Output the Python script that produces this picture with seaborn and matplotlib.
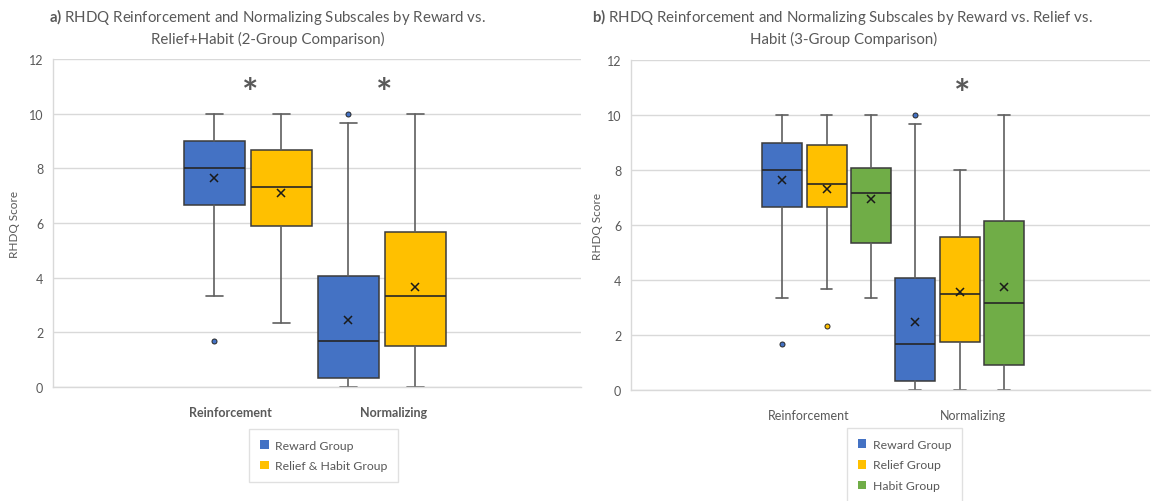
import numpy as np
import matplotlib
matplotlib.use("Agg")
import matplotlib.pyplot as plt
import seaborn as sns
from matplotlib.patches import Patch

# ---------------- data ----------------
subscales = ["Reinforcement", "Normalizing"]

# panel a: 2 groups  (indexed [subscale][group])
a_groups = ["Reward Group", "Relief & Habit Group"]
a_q1 = [[6.67, 5.90], [0.33, 1.50]]
a_med = [[8.00, 7.33], [1.67, 3.33]]
a_q3 = [[9.00, 8.67], [4.07, 5.67]]
a_lo = [[3.33, 2.33], [0.00, 0.00]]
a_hi = [[10.0, 10.0], [9.67, 10.0]]
a_mean = [[7.65, 7.09], [2.46, 3.67]]
a_fliers = [[[1.67], []], [[10.0], []]]

# panel b: 3 groups
b_groups = ["Reward Group", "Relief Group", "Habit Group"]
b_q1 = [[6.67, 6.67, 5.33], [0.33, 1.75, 0.92]]
b_med = [[8.00, 7.50, 7.17], [1.67, 3.50, 3.17]]
b_q3 = [[9.00, 8.90, 8.07], [4.07, 5.58, 6.15]]
b_lo = [[3.33, 3.67, 3.33], [0.00, 0.00, 0.00]]
b_hi = [[10.0, 10.0, 10.0], [9.67, 8.00, 10.0]]
b_mean = [[7.65, 7.30, 6.93], [2.46, 3.58, 3.74]]
b_fliers = [[[1.67], [2.33], []], [[10.0], [], []]]

# significance marks: subscale index per panel
a_sig = [0, 1]
b_sig = [1]

yticks = [0, 2, 4, 6, 8, 10, 12]

# ---------------- style ----------------
sns.set_theme(style="white")
plt.rcParams["font.family"] = ["Lato", "DejaVu Sans"]
plt.rcParams["mathtext.fontset"] = "custom"
plt.rcParams["mathtext.rm"] = "Lato"
plt.rcParams["mathtext.bf"] = "Lato:bold"

palette = ["#4472C4", "#FFC000", "#70AD47"]
TXT = "#595959"
GRID = "#d9d9d9"

W, H = 1158, 502
fig = plt.figure(figsize=(W / 100, H / 100), dpi=100)
fig.patch.set_facecolor("white")

axa = fig.add_axes([53 / W, 1 - 388 / H, 528 / W, 328 / H])
axb = fig.add_axes([631 / W, 1 - 391 / H, 519 / W, 330 / H])


def draw(ax, q1, med, q3, lo, hi, mean, fliers, ngroups, offsets, width, capw):
    stats, positions, cols = [], [], []
    for i in range(len(subscales)):
        for j in range(ngroups):
            stats.append(dict(q1=q1[i][j], med=med[i][j], q3=q3[i][j],
                              whislo=lo[i][j], whishi=hi[i][j],
                              mean=mean[i][j], fliers=fliers[i][j], label=""))
            positions.append(i + offsets[j])
            cols.append(palette[j])
    bp = ax.bxp(stats, positions=positions, widths=width, capwidths=capw,
                patch_artist=True, showmeans=True, showfliers=True,
                boxprops=dict(edgecolor="#3a3a3a", linewidth=1.1),
                medianprops=dict(color="#262626", linewidth=1.2),
                whiskerprops=dict(color="#5f5f5f", linewidth=1.2),
                capprops=dict(color="#5f5f5f", linewidth=1.2),
                meanprops=dict(marker="x", markeredgecolor="#1a1a1a",
                               markersize=6, markeredgewidth=1.1),
                flierprops=dict(marker="o", markersize=3.6,
                                markeredgecolor="#262626", markeredgewidth=0.7))
    for p, c in zip(bp["boxes"], cols):
        p.set_facecolor(c)
    for f, c in zip(bp["fliers"], cols):
        f.set_markerfacecolor(c)


draw(axa, a_q1, a_med, a_q3, a_lo, a_hi, a_mean, a_fliers, 2,
     [-0.25, 0.25], 0.448, 0.134)
draw(axb, b_q1, b_med, b_q3, b_lo, b_hi, b_mean, b_fliers, 3,
     [-0.334, 0.0, 0.334], 0.30, 0.088)

axa.set_xlim(-1.455, 2.485)
axb.set_xlim(-1.47, 2.43)

for ax, tickpos, bold, ylx in [(axa, [-0.134, 1.09], True, -0.0625),
                               (axb, [-0.137, 1.096], False, -0.054)]:
    ax.set_ylim(0, 12)
    ax.set_yticks(yticks)
    ax.set_yticklabels([str(t) for t in yticks])
    ax.yaxis.grid(True, color=GRID, linewidth=1)
    ax.xaxis.grid(False)
    ax.set_axisbelow(True)
    for s in ["top", "right"]:
        ax.spines[s].set_visible(False)
    for s in ["left", "bottom"]:
        ax.spines[s].set_color(GRID)
        ax.spines[s].set_linewidth(1)
    ax.set_xticks(tickpos)
    ax.set_xticklabels(subscales, fontweight="bold" if bold else "normal")
    ax.tick_params(axis="y", length=0, pad=7, labelsize=9, labelcolor=TXT)
    ax.tick_params(axis="x", length=0, pad=14, labelsize=9, labelcolor=TXT)
    ax.set_ylabel("RHDQ Score", fontsize=8.5, color=TXT)
    ax.yaxis.set_label_coords(ylx, 0.5)
    ax.set_xlabel("")

for i in a_sig:
    axa.text(i + 0.02, 10.75, "*", fontsize=28, fontweight="bold",
             color=TXT, ha="center", va="center")
for i in b_sig:
    axb.text(i + 0.02, 10.75, "*", fontsize=28, fontweight="bold",
             color=TXT, ha="center", va="center")

# titles
fig.text(267 / W, 1 - 17 / H,
         r"$\mathbf{a)}$ RHDQ Reinforcement and Normalizing Subscales by Reward vs.",
         ha="center", va="center", fontsize=10.8, color=TXT)
fig.text(268 / W, 1 - 39 / H, "Relief+Habit (2-Group Comparison)",
         ha="center", va="center", fontsize=10.8, color=TXT)
fig.text(842 / W, 1 - 17 / H,
         r"$\mathbf{b)}$ RHDQ Reinforcement and Normalizing Subscales by Reward vs. Relief vs.",
         ha="center", va="center", fontsize=10.8, color=TXT)
fig.text(844 / W, 1 - 39 / H, "Habit (3-Group Comparison)",
         ha="center", va="center", fontsize=10.8, color=TXT)

# legends
def make_legend(groups, center):
    handles = [Patch(facecolor=palette[j], edgecolor="none", label=g)
               for j, g in enumerate(groups)]
    leg = fig.legend(handles=handles, loc="center", bbox_to_anchor=center,
                     frameon=True, fancybox=False, fontsize=8.8,
                     handlelength=0.7, handleheight=0.7, handletextpad=0.5,
                     labelspacing=0.8, borderpad=0.9, borderaxespad=0)
    leg.get_frame().set_edgecolor(GRID)
    leg.get_frame().set_linewidth(1)
    for t in leg.get_texts():
        t.set_color(TXT)
    return leg


make_legend(a_groups, (323.5 / W, 1 - 456.5 / H))
make_legend(b_groups, (904.5 / W, 1 - 466 / H))

fig.savefig("out.png", dpi=100, facecolor="white")
